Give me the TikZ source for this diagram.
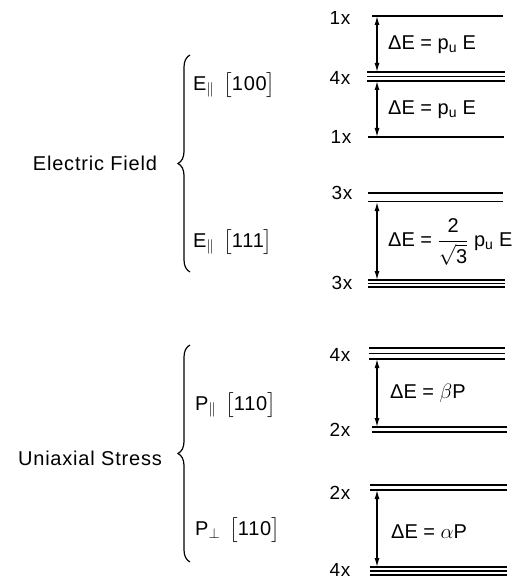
\documentclass[tikz,border=0pt]{standalone}
\usepackage{amsmath}
\usepackage{fontspec}
\setmainfont{Liberation Sans}
\newfontfamily\wideface{Liberation Sans}[LetterSpace=4]
\usetikzlibrary{arrows.meta,decorations.pathreplacing}
\tikzset{
  lbl/.style={font=\wideface\fontsize{20}{24}\selectfont, inner sep=0pt},
  deg/.style={font=\wideface\fontsize{19}{22}\selectfont, inner sep=0pt},
  dE/.style={font=\fontsize{20}{24}\selectfont, inner sep=0pt, anchor=west},
  lvl/.style={line width=1.5pt},
  lvlthick/.style={line width=2.6pt},
  lvlthin/.style={line width=1.1pt},
  darr/.style={{Latex[length=9pt,width=5pt]}-{Latex[length=9pt,width=5pt]}, line width=1.2pt},
  grp/.style={decorate, decoration={brace, amplitude=12pt}, line width=1.2pt}
}

\begin{document}
\begin{tikzpicture}[x=1pt, y=-1pt]
\useasboundingbox (0,0) rectangle (528,580);

% left side: perturbation and direction
\node[lbl] (ef) at (95,163) {Electric Field};
\node[lbl, anchor=west] (e100) at (193,85) {E$_{\parallel}$\hspace{9pt}$\big[$100$\big]$};
\node[lbl, anchor=west] (e111) at (193,242) {E$_{\parallel}$\hspace{9pt}$\big[$111$\big]$};
\coordinate (ebot) at (190,272);
\coordinate (etop) at (190,55);
\draw[grp] (ebot) -- (etop);

\node[lbl] (us) at (90,458) {Uniaxial Stress};
\node[lbl, anchor=west] (p1) at (195,405) {P$_{\parallel}$\hspace{9pt}$\big[$110$\big]$};
\node[lbl, anchor=west] (p2) at (195,530) {P$_{\perp}$\hspace{9pt}$\big[$110$\big]$};
\coordinate (pbot) at (190,562);
\coordinate (ptop) at (190,345);
\draw[grp] (pbot) -- (ptop);

% E || [100]
\draw[lvl] (372,16) -- (503,16);
\foreach \y in {72,76.5,81} \draw[lvl] (367,\y) -- (505,\y);
\draw[lvl] (368,137) -- (504,137);
\node[deg] (n1) at (340,18) {1x};
\node[deg] (n2) at (340,78) {4x};
\node[deg] (n3) at (341,137) {1x};
\coordinate (a1) at (377,16);
\coordinate (a2) at (377,72);
\coordinate (a3) at (377,81);
\coordinate (a4) at (377,137);
\draw[darr] (a1) -- (a2);
\draw[darr] (a3) -- (a4);
\node[dE] (d1) at (388,45) {ΔE = p\textsubscript{u} E};
\node[dE] (d2) at (388,110) {ΔE = p\textsubscript{u} E};

% E || [111]
\draw[lvlthick] (368,193) -- (503,193);
\draw[lvlthin] (368,201.5) -- (503,201.5);
\foreach \y in {280,283.5,287} \draw[lvl] (368,\y) -- (505,\y);
\node[deg] (n4) at (342,193) {3x};
\node[deg] (n5) at (342,283) {3x};
\coordinate (b1) at (377,202);
\coordinate (b2) at (377,280);
\draw[darr] (b1) -- (b2);
\node[dE] (d3) at (388,242) {ΔE = $\dfrac{\text{2}}{\sqrt{\text{3}}}$ p\textsubscript{u} E};

% P || [110]
\foreach \y in {348,353.5,359} \draw[lvl] (369,\y) -- (505,\y);
\draw[lvlthick] (372,427) -- (507,427);
\draw[lvlthin] (372,432) -- (507,432);
\node[deg] (n6) at (340,355) {4x};
\node[deg] (n7) at (340,430) {2x};
\coordinate (c1) at (377,359);
\coordinate (c2) at (377,427);
\draw[darr] (c1) -- (c2);
\node[dE] (d4) at (390,393) {ΔE = $\beta$P};

% P perp [110]
\draw[lvlthick] (370,485) -- (507,485);
\draw[lvlthin] (370,490) -- (507,490);
\foreach \y in {567,571,575} \draw[lvl] (370,\y) -- (507,\y);
\node[deg] (n8) at (340,493) {2x};
\node[deg] (n9) at (340,570) {4x};
\coordinate (c3) at (377,490);
\coordinate (c4) at (377,567);
\draw[darr] (c3) -- (c4);
\node[dE] (d5) at (391,532) {ΔE = $\alpha$P};
\end{tikzpicture}
\end{document}
